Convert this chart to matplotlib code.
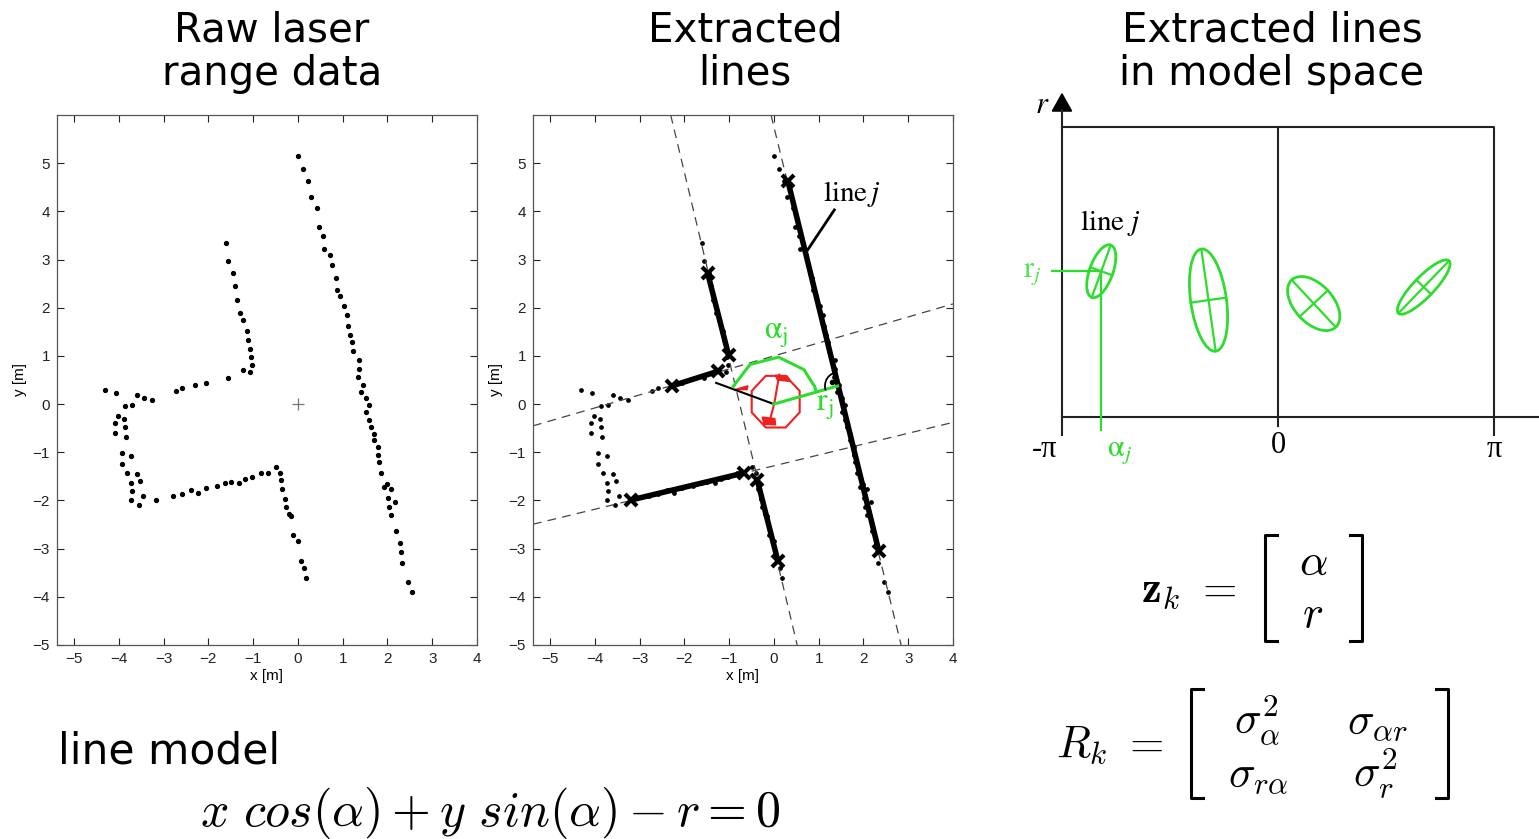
import numpy as np
import matplotlib.pyplot as plt
from matplotlib.lines import Line2D
from matplotlib.patches import Ellipse, Polygon

plt.rcParams["mathtext.fontset"] = "cm"

W, H = 1539, 839

# raw laser scan points [m]
SCAN_X = [0.00, 0.12, 0.23, 0.29, 0.42, 0.48, 0.56, 0.59, 0.71, 0.77, 0.84, 0.87, 0.95, 1.03, 1.10,
          1.11, 1.17, 1.21, 1.22, 1.36, 1.36, 1.35, 1.45, 1.42, 1.51, 1.59, 1.51, 1.58, 1.63, 1.69,
          1.69, 1.78, 1.80, 1.82, 1.86, 1.93, 2.00, 2.09, 2.02, 2.17, 2.03, 2.09, 2.20, 2.29, 2.30,
          2.33, 2.46, 2.54,
          -1.61, -1.55, -1.46, -1.40, -1.35, -1.30, -1.23, -1.14, -1.11, -1.08, -1.05, -1.02, -1.08,
          -1.23, -1.56,
          -2.06, -2.29, -2.58, -2.72, -3.26, -3.44, -3.59, -3.70, -4.06, -4.30,
          -3.87, -4.01, -3.88, -4.09, -3.86, -4.08, -3.84, -3.92, -3.73, -3.92, -3.82, -3.59, -3.72,
          -3.52, -3.70, -3.46, -3.72, -3.55,
          -3.18, -2.79, -2.58, -2.39, -2.22, -2.05, -1.80, -1.63, -1.49, -1.32, -1.19, -1.02, -0.83,
          -0.66, -0.50,
          -0.41, -0.37, -0.35, -0.29, -0.27, -0.20, -0.15, -0.11, 0.00, 0.08, 0.13, 0.19]
SCAN_Y = [5.15, 4.87, 4.63, 4.30, 4.06, 3.67, 3.48, 3.21, 3.10, 2.89, 2.61, 2.37, 2.24, 2.04, 1.85,
          1.62, 1.44, 1.28, 1.10, 0.91, 0.72, 0.57, 0.39, 0.26, 0.12, -0.01, -0.16, -0.32, -0.48, -0.63,
          -0.75, -0.90, -1.05, -1.21, -1.43, -1.73, -1.66, -1.77, -1.94, -2.03, -2.13, -2.31, -2.63,
          -2.89, -3.06, -3.30, -3.70, -3.91,
          3.34, 2.98, 2.72, 2.45, 2.16, 1.90, 1.74, 1.51, 1.34, 1.14, 0.98, 0.81, 0.66, 0.70, 0.55,
          0.43, 0.40, 0.34, 0.27, 0.08, 0.12, 0.18, -0.01, 0.24, 0.30,
          -0.05, -0.24, -0.31, -0.39, -0.48, -0.61, -0.68, -1.02, -1.08, -1.24, -1.44, -1.46, -1.63,
          -1.60, -1.80, -1.91, -2.00, -2.10,
          -1.99, -1.91, -1.87, -1.78, -1.85, -1.74, -1.71, -1.64, -1.61, -1.63, -1.55, -1.51, -1.44,
          -1.44, -1.31,
          -1.43, -1.58, -1.76, -1.97, -2.14, -2.29, -2.33, -2.72, -2.85, -3.26, -3.41, -3.60]

# extracted segments, end points [m]
SEG_X0 = [0.31, -1.48, -2.27, -3.19, -0.37]
SEG_Y0 = [4.64, 2.72, 0.38, -1.99, -1.58]
SEG_X1 = [2.34, -1.01, -1.25, -0.67, 0.09]
SEG_Y1 = [-3.04, 1.01, 0.68, -1.43, -3.26]

# fitted lines x cos(a) + y sin(a) = r
LINE_ALPHA = [14.8, -165.6, 105.1, -77.3]   # deg
LINE_R = [1.47, 0.74, 0.965, 1.25]           # m
ALPHA_ARC = [158, 123, 84, 47, 22, 15]       # deg, angle sketch
ARC_RADIUS = 0.98

# lines in model space (alpha [rad], r) with covariance ellipses
ELL_ALPHA = [-2.57, -1.01, 0.52, 2.12]
ELL_R = [2.12, 1.70, 1.65, 1.89]
ELL_W = [0.81, 1.50, 0.94, 1.06]
ELL_H = [0.34, 0.52, 0.56, 0.30]
ELL_ANGLE = [70, 98, -47, 46]
R_TOP = 4.22

GREEN = "#2edc2e"
RED = "#ee2020"


def fx(x):
    return x / W


def fy(y):
    return 1 - y / H


def scan_axes(rect):
    ax = fig.add_axes(rect)
    ax.set_xlim(-5.38, 4)
    ax.set_ylim(-5, 6)
    ax.set_xticks(range(-5, 5))
    ax.set_yticks(range(-5, 6))
    ax.tick_params(direction="in", top=True, right=True, length=5, width=0.8,
                   labelsize=11, pad=5, colors="#222222")
    for lab in ax.get_xticklabels() + ax.get_yticklabels():
        lab.set_fontfamily("Liberation Sans")
    for s in ax.spines.values():
        s.set_color("#555555")
        s.set_linewidth(0.9)
    ax.set_xlabel("x [m]", fontsize=11, family="Liberation Sans", labelpad=2)
    ax.set_ylabel("y [m]", fontsize=11, family="Liberation Sans", labelpad=4)
    return ax


fig = plt.figure(figsize=(W / 100, H / 100), dpi=100)

# titles
title_kw = dict(ha="center", va="center", fontsize=29, family="DejaVu Sans", linespacing=1.12)
fig.text(fx(272), fy(52), "Raw laser\nrange data", **title_kw)
fig.text(fx(745), fy(52), "Extracted\nlines", **title_kw)
fig.text(fx(1272), fy(52), "Extracted lines\nin model space", **title_kw)

# ---- raw scan
ax1 = scan_axes([fx(57), fy(645), fx(477 - 57), (645 - 115) / H])
ax1.plot(SCAN_X, SCAN_Y, "o", color="black", markersize=2.8)
ax1.plot([0], [0], "+", color="#777777", markersize=9, mew=0.9)

# ---- extracted lines
ax2 = scan_axes([fx(533), fy(645), fx(953 - 533), (645 - 115) / H])
ax2.plot(SCAN_X, SCAN_Y, "o", color="black", markersize=2.4)
for a, r in zip(LINE_ALPHA, LINE_R):
    ar = np.radians(a)
    p0 = (r * np.cos(ar), r * np.sin(ar))
    p1 = (p0[0] - np.sin(ar), p0[1] + np.cos(ar))
    ax2.axline(p0, p1, color="#444444", lw=0.9, ls=(0, (7, 5)))
for x0, y0, x1, y1 in zip(SEG_X0, SEG_Y0, SEG_X1, SEG_Y1):
    ax2.plot([x0, x1], [y0, y1], color="black", lw=4, solid_capstyle="butt")
    ax2.plot([x0, x1], [y0, y1], "x", color="black", markersize=9, mew=3)

# robot
th = np.radians(np.arange(22.5, 360, 45))
ax2.add_patch(Polygon(np.c_[0.04 + 0.58 * np.cos(th), 0.05 + 0.58 * np.sin(th)],
                      closed=True, fill=False, ec=RED, lw=1.5))
ax2.plot([0.12, 0.01, -0.09], [0.61, 0.02, -0.34], color=RED, lw=1.5)
ax2.add_patch(Polygon([[0.03, 0.60], [0.30, 0.58], [0.37, 0.47], [0.08, 0.50]], color=RED))
ax2.add_patch(Polygon([[-0.26, -0.27], [0.02, -0.30], [0.04, -0.43], [-0.22, -0.42]], color=RED))
ax2.add_patch(Polygon([[-0.88, 0.30], [-0.58, 0.38], [-0.60, 0.30]], color=RED))
ax2.plot([0.0, -1.29], [0.0, 0.44], color="black", lw=1.5)

# alpha_j / r_j
aj = np.radians(LINE_ALPHA[0])
ax2.plot([0, LINE_R[0] * np.cos(aj)], [0, LINE_R[0] * np.sin(aj)], color=GREEN, lw=2.2)
arc = np.radians(ALPHA_ARC)
ax2.plot(ARC_RADIUS * np.cos(arc), ARC_RADIUS * np.sin(arc), color=GREEN, lw=2.2)
foot = (LINE_R[0] * np.cos(aj), LINE_R[0] * np.sin(aj))
ra = np.radians(np.linspace(LINE_ALPHA[0] + 90, LINE_ALPHA[0] + 180, 20))
ax2.plot(foot[0] + 0.28 * np.cos(ra), foot[1] + 0.28 * np.sin(ra), color="black", lw=1.3)
ax2.plot(foot[0] + 0.15 * np.cos(aj + 3 * np.pi / 4), foot[1] + 0.15 * np.sin(aj + 3 * np.pi / 4),
         "o", color="black", markersize=3)
ax2.text(0.05, 1.45, r"$\mathrm{\alpha_j}$", color=GREEN, fontsize=23, ha="center", va="center",
         math_fontfamily="stix")
ax2.text(0.95, -0.05, r"$\mathrm{r_j}$", color=GREEN, fontsize=23, ha="left", va="center",
         math_fontfamily="stix")
ax2.plot([1.35, 0.74], [4.03, 3.18], color="black", lw=2)
ax2.text(1.1, 4.37, r"$\mathrm{line}\,j$", fontsize=21, ha="left", va="center",
         math_fontfamily="stix")

# ---- model space
ax3 = fig.add_axes([fx(1000), fy(470), fx(539), 385 / H])
ax3.set_xlim(-4.043, 3.797)
ax3.set_ylim(-0.771, 4.829)
ax3.axis("off")
lk = dict(color="#222222", lw=1.5)
ax3.plot([-np.pi, np.pi, np.pi], [R_TOP, R_TOP, -0.26], **lk)
ax3.plot([0, 0], [R_TOP, -0.13], **lk)
ax3.plot([-np.pi, 3.797], [0, 0], **lk)
ax3.plot([-np.pi, -np.pi], [-0.26, 4.47], **lk)
ax3.add_patch(Polygon([[-np.pi - 0.14, 4.45], [-np.pi + 0.14, 4.45], [-np.pi, 4.70]], color="black"))
ax3.text(-3.43, 4.55, r"$r$", fontsize=22, ha="center", va="center", math_fontfamily="stix")
tk = dict(fontsize=22, ha="center", va="center", family="Liberation Serif")
ax3.text(-3.39, -0.48, "-π", **tk)
ax3.text(0, -0.41, "0", **tk)
ax3.text(np.pi, -0.48, "π", **tk)
for a, r, w, h, ang in zip(ELL_ALPHA, ELL_R, ELL_W, ELL_H, ELL_ANGLE):
    ax3.add_patch(Ellipse((a, r), w, h, angle=ang, fill=False, ec=GREEN, lw=2))
    t = np.radians(ang)
    ax3.plot([a - w / 2 * np.cos(t), a + w / 2 * np.cos(t)],
             [r - w / 2 * np.sin(t), r + w / 2 * np.sin(t)], color=GREEN, lw=1.6)
    ax3.plot([a + h / 2 * np.sin(t), a - h / 2 * np.sin(t)],
             [r - h / 2 * np.cos(t), r + h / 2 * np.cos(t)], color=GREEN, lw=1.6)
ax3.plot([-3.29, ELL_ALPHA[0]], [ELL_R[0], ELL_R[0]], color=GREEN, lw=1.6)
ax3.plot([ELL_ALPHA[0], ELL_ALPHA[0]], [-0.19, ELL_R[0]], color=GREEN, lw=1.6)
ax3.text(-3.58, 2.10, r"$\mathrm{r}_j$", color=GREEN, fontsize=22, ha="center", va="center",
         math_fontfamily="stix", alpha=0.8)
ax3.text(-2.30, -0.50, r"$\mathrm{\alpha}_j$", color=GREEN, fontsize=22, ha="center", va="center",
         math_fontfamily="stix")
ax3.text(-2.88, 2.82, r"$\mathrm{line}\ j$", fontsize=21, ha="left", va="center",
         math_fontfamily="stix")

# ---- equations
fig.text(fx(58), fy(752), "line model", fontsize=30.5, family="DejaVu Sans", ha="left", va="center")
fig.text(fx(490), fy(813), r"$x\ cos(\alpha) + y\ sin(\alpha) - r = 0$", fontsize=36,
         ha="center", va="center")


def bracket(x, y0, y1, side):
    d = 12 if side == "l" else -12
    fig.add_artist(Line2D([fx(x + d), fx(x), fx(x), fx(x + d)], [fy(y0), fy(y0), fy(y1), fy(y1)],
                          transform=fig.transFigure, color="black", lw=2.2))


fig.text(fx(1237), fy(590), r"$\mathbf{z}_k\ =$", fontsize=32, ha="right", va="center")
bracket(1265, 535, 641, "l")
bracket(1362, 535, 641, "r")
fig.text(fx(1313), fy(562), r"$\alpha$", fontsize=32, ha="center", va="center")
fig.text(fx(1313), fy(615), r"$r$", fontsize=32, ha="center", va="center")

fig.text(fx(1164), fy(745), r"$R_k\ =$", fontsize=32, ha="right", va="center")
bracket(1191, 689, 798, "l")
bracket(1448, 689, 798, "r")
fig.text(fx(1257), fy(720), r"$\sigma^2_\alpha$", fontsize=32, ha="center", va="center")
fig.text(fx(1377), fy(722), r"$\sigma_{\alpha r}$", fontsize=32, ha="center", va="center")
fig.text(fx(1258), fy(775), r"$\sigma_{r\alpha}$", fontsize=32, ha="center", va="center")
fig.text(fx(1375), fy(773), r"$\sigma^2_r$", fontsize=32, ha="center", va="center")

fig.savefig("out.png", dpi=100)
